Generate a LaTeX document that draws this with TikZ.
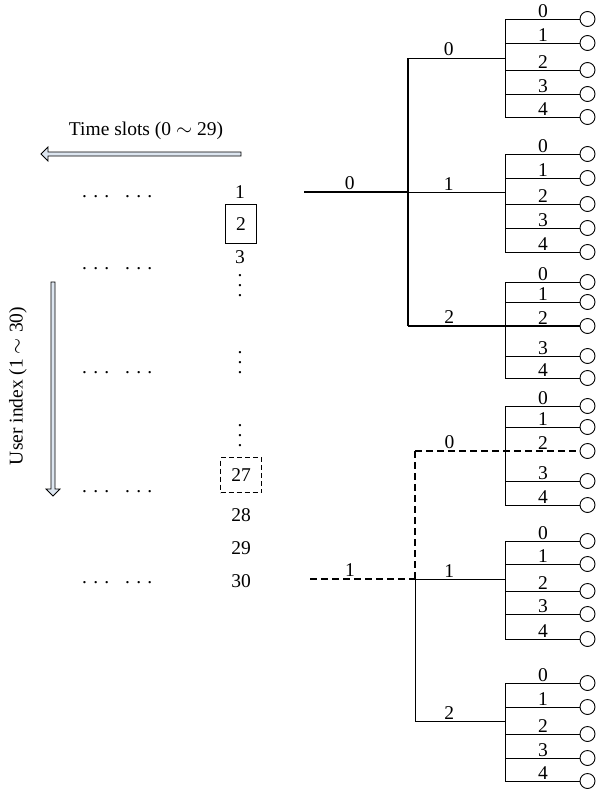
\documentclass[tikz,border=0pt]{standalone}
\usepackage{fontspec}
\setmainfont{Liberation Serif}
\usetikzlibrary{positioning}
\definecolor{arrowfill}{RGB}{221,230,240}
\newcommand{\dgfont}{\fontsize{19.5}{21}\selectfont}
\newcommand{\dotrow}{.\hspace{6.2pt}.\hspace{6.2pt}.\hspace{16pt}.\hspace{6.2pt}.\hspace{6.2pt}.}
\tikzset{
  leaf/.style={circle, draw, line width=0.9pt, minimum size=15pt, inner sep=0pt},
  wire/.style={line width=1pt},
  trunk/.style={line width=1.4pt},
  dashwire/.style={line width=1.4pt, dash pattern=on 7pt off 4pt},
  lbl/.style={anchor=south, inner sep=1.5pt, font=\dgfont},
  num/.style={inner sep=0pt, font=\dgfont},
  vdot/.style={inner sep=0pt, align=center, font=\fontsize{19.5}{10}\selectfont},
  hollow/.style={draw, line width=0.8pt, fill=arrowfill, line join=miter}
}

\begin{document}
\begin{tikzpicture}[x=1pt, y=-1pt]
  \useasboundingbox (0,0) rectangle (606,790);

  %% Axis arrows
  \node[num] (tslot) at (146,131) {Time slots (0 $\sim$ 29)};
  \filldraw[hollow] (241,152) -- (48,152) -- (48,147) -- (41,154)
    -- (48,161) -- (48,156) -- (241,156) -- cycle;
  \node[num, rotate=90] (uidx) at (18,386) {User index (1 $\sim$ 30)};
  \filldraw[hollow] (51,282) -- (51,489) -- (46,489) -- (53,496)
    -- (60,489) -- (55,489) -- (55,282) -- cycle;

  %% Dot rows
  \foreach \y [count=\k] in {197,269,373,492,583}{
    \node[num, anchor=base west] (dots-\k) at (82,\y) {\dotrow};
  }

  %% User column
  \node[num] (u1) at (240,192) {1};
  \node[num, draw, line width=1.3pt, minimum width=31pt,
    minimum height=39pt] (u2) at (241,224) {2};
  \node[num] (u3) at (240,257) {3};
  \foreach \y [count=\k] in {286,363,436}{
    \node[vdot] (vd-\k) at (240,\y) {.\\.\\.};
  }
  \node[num, draw, line width=1.3pt, dash pattern=on 5pt off 3pt,
    minimum width=41pt, minimum height=35pt] (u27) at (241,475) {27};
  \node[num] (u28) at (241,515) {28};
  \node[num] (u29) at (241,548) {29};
  \node[num] (u30) at (241,581) {30};

  %% Leaf subtrees (name/skipped leaf/five leaf rows)
  \foreach \t/\sk/\ya/\yb/\yc/\yd/\ye in {A/9/19/43/70/94/117,
      B/9/154/178/204/228/252, C/2/282/302/326/356/378,
      D/2/406/427/451/481/505, E/9/541/564/591/614/639,
      F/9/683/707/734/758/781}{
    \foreach \i/\y in {0/\ya,1/\yb,2/\yc,3/\yd,4/\ye}{
      \coordinate (\t-\i-v) at (505,\y);
      \node[leaf] (\t-\i) at (587.5,\y) {};
      \node[lbl] (\t-\i-l) at (543,\y) {\i};
      \ifnum\i=\sk\relax\else
        \draw[wire] (\t-\i-v) -- (\t-\i);
      \fi
    }
    \draw[wire] (\t-0-v) -- (\t-4-v);
  }

  %% Upper tree (slot 0)
  \coordinate (ur) at (304,192);
  \coordinate (uj-0) at (408,58);
  \coordinate (uj-1) at (408,192);
  \coordinate (uj-2) at (408,326);
  \coordinate (A-in) at (505,58);
  \coordinate (B-in) at (505,192);
  \draw[trunk] (ur) -- (uj-1) node[lbl, pos=0.44] (ur-l) {0};
  \draw[trunk] (uj-0) -- (uj-2);
  \draw[wire] (uj-0) -- (A-in) node[lbl, pos=0.42] (ub-0) {0};
  \draw[wire] (uj-1) -- (B-in) node[lbl, pos=0.42] (ub-1) {1};
  \draw[trunk] (uj-2) -- (C-2) node[lbl, pos=0.24] (ub-2) {2};

  %% Lower tree (slot 1)
  \coordinate (lr) at (310,579);
  \coordinate (lj-0) at (415,451);
  \coordinate (lj-1) at (415,579);
  \coordinate (lj-2) at (415,721);
  \coordinate (E-in) at (505,579);
  \coordinate (F-in) at (505,721);
  \draw[dashwire] (lr) -- (lj-1) node[lbl, pos=0.38] (lr-l) {1};
  \draw[dashwire] (lj-0) -- (lj-1);
  \draw[wire] (lj-1) -- (lj-2);
  \draw[dashwire] (lj-0) -- (D-2) node[lbl, pos=0.21] (lb-0) {0};
  \draw[wire] (lj-1) -- (E-in) node[lbl, pos=0.38] (lb-1) {1};
  \draw[wire] (lj-2) -- (F-in) node[lbl, pos=0.38] (lb-2) {2};

\end{tikzpicture}
\end{document}
